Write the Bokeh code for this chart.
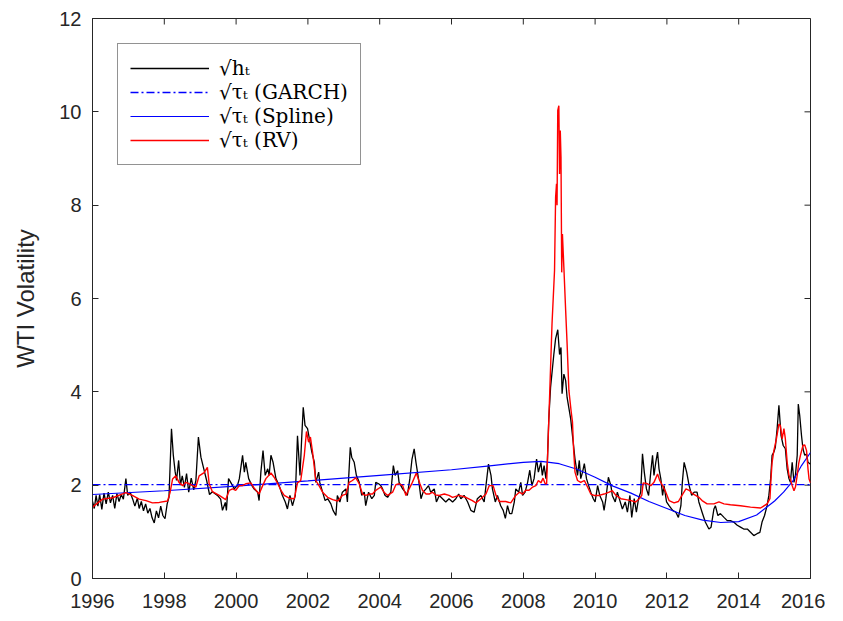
import math
from bokeh.plotting import figure
from bokeh.models import Range1d, FixedTicker, Legend, LegendItem, ColumnDataSource
from bokeh.embed import file_html
from bokeh.resources import INLINE

# sqrt(h_t): (year, value)
h_points = [
    (1996.00, 1.65), (1996.05, 1.50), (1996.10, 1.78), (1996.15, 1.55), (1996.20, 1.80),
    (1996.26, 1.48), (1996.32, 1.83), (1996.38, 1.60), (1996.44, 1.85), (1996.50, 1.62),
    (1996.56, 1.78), (1996.62, 1.50), (1996.68, 1.82), (1996.74, 1.65), (1996.80, 1.80),
    (1996.86, 1.70), (1996.93, 2.14), (1996.98, 1.78), (1997.05, 1.85), (1997.12, 1.70),
    (1997.18, 1.55), (1997.25, 1.72), (1997.30, 1.50), (1997.36, 1.65), (1997.42, 1.45),
    (1997.48, 1.60), (1997.54, 1.40), (1997.60, 1.50), (1997.66, 1.30), (1997.72, 1.19),
    (1997.78, 1.45), (1997.84, 1.30), (1997.90, 1.55), (1997.96, 1.35), (1998.02, 1.28),
    (1998.08, 1.60), (1998.13, 1.74), (1998.20, 3.21), (1998.25, 2.65), (1998.30, 2.30),
    (1998.34, 2.10), (1998.40, 2.53), (1998.45, 2.00), (1998.50, 2.20), (1998.56, 1.95),
    (1998.62, 2.25), (1998.68, 1.85), (1998.75, 2.15), (1998.82, 1.90), (1998.88, 2.10),
    (1998.95, 3.03), (1999.02, 2.60), (1999.10, 2.35), (1999.18, 2.10), (1999.26, 1.80),
    (1999.34, 1.86), (1999.48, 1.78), (1999.57, 1.70), (1999.62, 1.46), (1999.70, 1.63),
    (1999.73, 1.46), (1999.79, 2.14), (1999.85, 2.06), (1999.95, 1.92), (2000.04, 2.00),
    (2000.09, 2.14), (2000.18, 2.64), (2000.23, 2.28), (2000.27, 2.49), (2000.35, 2.14),
    (2000.44, 1.99), (2000.50, 1.92), (2000.60, 1.85), (2000.64, 1.67), (2000.69, 2.28),
    (2000.75, 2.74), (2000.81, 2.21), (2000.88, 2.35), (2000.92, 2.21), (2000.97, 2.64),
    (2001.03, 2.49), (2001.11, 2.14), (2001.20, 1.99), (2001.29, 1.78), (2001.37, 1.64),
    (2001.43, 1.49), (2001.50, 1.78), (2001.57, 1.56), (2001.65, 1.78), (2001.71, 3.06),
    (2001.78, 2.21), (2001.83, 3.06), (2001.87, 3.67), (2001.92, 3.28), (2001.99, 3.21),
    (2002.04, 3.00), (2002.11, 2.71), (2002.18, 2.49), (2002.22, 2.06), (2002.30, 2.28),
    (2002.33, 2.06), (2002.41, 1.85), (2002.48, 1.67), (2002.55, 1.71), (2002.64, 1.60),
    (2002.70, 1.46), (2002.78, 1.35), (2002.82, 1.78), (2002.89, 1.64), (2002.96, 1.85),
    (2003.06, 1.92), (2003.10, 1.64), (2003.18, 2.81), (2003.22, 2.60), (2003.29, 2.49),
    (2003.35, 2.21), (2003.43, 2.06), (2003.50, 1.78), (2003.57, 1.85), (2003.61, 1.56),
    (2003.69, 1.85), (2003.78, 1.71), (2003.85, 1.78), (2003.89, 2.06), (2003.97, 2.03),
    (2004.03, 1.99), (2004.08, 1.92), (2004.15, 1.78), (2004.22, 1.74), (2004.31, 1.85),
    (2004.38, 2.42), (2004.43, 2.21), (2004.50, 2.31), (2004.54, 2.06), (2004.64, 1.92),
    (2004.71, 1.85), (2004.77, 1.78), (2004.84, 2.14), (2004.90, 2.56), (2004.96, 2.78),
    (2005.01, 2.49), (2005.08, 2.14), (2005.15, 1.71), (2005.21, 1.85), (2005.29, 1.92),
    (2005.36, 1.99), (2005.42, 1.85), (2005.52, 1.92), (2005.58, 1.64), (2005.66, 1.78),
    (2005.75, 1.71), (2005.84, 1.64), (2005.93, 1.71), (2006.03, 1.64), (2006.12, 1.71),
    (2006.20, 1.81), (2006.26, 1.71), (2006.35, 1.78), (2006.45, 1.64), (2006.54, 1.46),
    (2006.63, 1.42), (2006.72, 1.71), (2006.82, 1.78), (2006.91, 1.64), (2006.96, 1.99),
    (2007.03, 2.45), (2007.10, 2.21), (2007.14, 1.92), (2007.22, 1.64), (2007.28, 1.78),
    (2007.37, 1.56), (2007.44, 1.46), (2007.50, 1.29), (2007.56, 1.56), (2007.62, 1.39),
    (2007.68, 1.39), (2007.75, 1.64), (2007.79, 1.92), (2007.87, 1.85), (2007.93, 2.06),
    (2007.98, 1.78), (2008.05, 1.85), (2008.12, 2.06), (2008.18, 2.32), (2008.24, 1.99),
    (2008.30, 2.14), (2008.37, 2.56), (2008.42, 2.28), (2008.49, 2.49), (2008.53, 2.21),
    (2008.58, 2.42), (2008.63, 2.14), (2008.67, 2.49), (2008.71, 3.42), (2008.76, 4.10),
    (2008.85, 4.80), (2008.90, 5.14), (2008.96, 5.33), (2009.01, 4.80), (2009.05, 4.95),
    (2009.08, 3.96), (2009.13, 4.38), (2009.18, 4.24), (2009.22, 3.88), (2009.32, 3.42),
    (2009.44, 2.56), (2009.51, 2.21), (2009.56, 2.53), (2009.60, 2.14), (2009.65, 2.28),
    (2009.70, 2.46), (2009.76, 2.14), (2009.82, 1.99), (2009.88, 1.85), (2009.95, 1.71),
    (2010.00, 1.64), (2010.07, 1.99), (2010.13, 1.78), (2010.21, 1.64), (2010.25, 1.46),
    (2010.30, 1.71), (2010.37, 2.17), (2010.44, 1.99), (2010.48, 1.78), (2010.56, 1.64),
    (2010.62, 1.85), (2010.69, 1.67), (2010.76, 1.49), (2010.84, 1.64), (2010.90, 1.42),
    (2010.97, 1.78), (2011.02, 1.31), (2011.09, 1.71), (2011.15, 1.42), (2011.21, 1.71),
    (2011.27, 1.85), (2011.32, 2.67), (2011.37, 2.28), (2011.43, 1.92), (2011.49, 1.78),
    (2011.55, 2.28), (2011.60, 2.64), (2011.64, 2.21), (2011.69, 2.49), (2011.74, 2.71),
    (2011.78, 2.35), (2011.83, 2.14), (2011.88, 1.78), (2011.92, 1.99), (2011.99, 1.64),
    (2012.06, 1.56), (2012.16, 1.46), (2012.25, 1.42), (2012.32, 1.31), (2012.39, 1.56),
    (2012.43, 2.06), (2012.48, 2.49), (2012.55, 2.28), (2012.62, 1.99), (2012.69, 1.78),
    (2012.76, 1.85), (2012.84, 1.85), (2012.89, 1.64), (2012.98, 1.42), (2013.07, 1.21),
    (2013.17, 1.06), (2013.23, 1.10), (2013.31, 1.49), (2013.35, 1.56), (2013.42, 1.35),
    (2013.49, 1.39), (2013.59, 1.31), (2013.68, 1.24), (2013.77, 1.24), (2013.86, 1.21),
    (2013.96, 1.14), (2014.05, 1.10), (2014.14, 1.06), (2014.24, 1.06), (2014.33, 0.99),
    (2014.42, 0.92), (2014.51, 0.96), (2014.59, 0.99), (2014.65, 1.21), (2014.72, 1.35),
    (2014.79, 1.56), (2014.84, 1.78), (2014.89, 2.14), (2014.93, 2.64), (2014.98, 2.71),
    (2015.02, 2.81), (2015.07, 3.21), (2015.12, 3.71), (2015.14, 3.49), (2015.18, 3.06),
    (2015.24, 2.85), (2015.30, 2.78), (2015.35, 2.35), (2015.40, 2.14), (2015.44, 2.06),
    (2015.49, 2.49), (2015.54, 2.06), (2015.58, 2.21), (2015.63, 2.64), (2015.66, 3.74),
    (2015.70, 3.49), (2015.75, 3.06), (2015.79, 2.78), (2015.84, 2.64), (2015.89, 2.67),
    (2015.93, 2.49), (2016.00, 2.45),
]

# sqrt(tau_t) (RV): (year, value)
rv_points = [
    (1996.00, 1.53), (1996.28, 1.70), (1996.56, 1.73), (1996.93, 1.84), (1997.11, 1.78),
    (1997.30, 1.70), (1997.49, 1.67), (1997.67, 1.62), (1997.86, 1.63), (1998.09, 1.66),
    (1998.16, 1.84), (1998.23, 2.13), (1998.32, 2.20), (1998.41, 2.06), (1998.51, 1.99),
    (1998.60, 2.06), (1998.69, 2.03), (1998.79, 1.99), (1998.88, 1.96), (1998.97, 2.20),
    (1999.11, 2.27), (1999.20, 2.38), (1999.25, 2.03), (1999.34, 1.86), (1999.53, 1.78),
    (1999.71, 1.69), (1999.81, 1.89), (1999.90, 1.92), (1999.99, 1.89), (2000.09, 1.99),
    (2000.18, 1.99), (2000.27, 2.03), (2000.41, 2.05), (2000.50, 1.94), (2000.60, 1.85),
    (2000.64, 1.81), (2000.74, 1.99), (2000.83, 2.14), (2000.97, 2.26), (2001.06, 2.17),
    (2001.15, 2.05), (2001.25, 1.89), (2001.34, 1.78), (2001.48, 1.72), (2001.62, 1.71),
    (2001.71, 2.05), (2001.80, 2.10), (2001.90, 2.64), (2001.96, 3.15), (2002.02, 2.92),
    (2002.07, 3.03), (2002.13, 2.71), (2002.22, 2.10), (2002.31, 1.99), (2002.41, 1.85),
    (2002.55, 1.74), (2002.69, 1.69), (2002.83, 1.66), (2002.96, 1.78), (2003.06, 1.81),
    (2003.15, 2.06), (2003.24, 2.10), (2003.33, 2.16), (2003.43, 2.03), (2003.52, 1.81),
    (2003.61, 1.78), (2003.71, 1.81), (2003.80, 1.81), (2003.89, 1.89), (2004.03, 1.96),
    (2004.12, 1.85), (2004.22, 1.78), (2004.36, 1.85), (2004.45, 2.01), (2004.54, 2.03),
    (2004.64, 1.99), (2004.73, 1.78), (2004.82, 1.92), (2004.91, 2.06), (2005.02, 2.26),
    (2005.12, 2.03), (2005.19, 1.89), (2005.29, 1.81), (2005.38, 1.81), (2005.47, 1.85),
    (2005.56, 1.79), (2005.66, 1.78), (2005.80, 1.81), (2005.93, 1.78), (2006.03, 1.74),
    (2006.21, 1.78), (2006.40, 1.74), (2006.58, 1.67), (2006.68, 1.62), (2006.82, 1.71),
    (2006.96, 1.81), (2007.05, 1.99), (2007.16, 1.99), (2007.24, 1.78), (2007.33, 1.65),
    (2007.51, 1.65), (2007.65, 1.62), (2007.79, 1.78), (2007.89, 1.85), (2007.98, 1.81),
    (2008.07, 1.89), (2008.16, 1.89), (2008.26, 1.96), (2008.35, 1.99), (2008.42, 2.10),
    (2008.49, 2.05), (2008.55, 2.15), (2008.61, 2.03), (2008.65, 2.03), (2008.71, 3.38),
    (2008.80, 5.46), (2008.87, 6.60), (2008.90, 8.17), (2008.925, 8.46), (2008.94, 8.00),
    (2008.96, 10.03), (2008.99, 10.13), (2009.01, 8.67), (2009.03, 9.60), (2009.05, 9.03),
    (2009.07, 6.56), (2009.09, 7.38), (2009.13, 6.67), (2009.18, 5.74), (2009.22, 5.03),
    (2009.27, 4.03), (2009.33, 3.60), (2009.37, 3.35), (2009.40, 2.78), (2009.44, 2.28),
    (2009.51, 2.10), (2009.60, 2.06), (2009.70, 2.10), (2009.79, 1.96), (2009.88, 1.81),
    (2009.97, 1.78), (2010.11, 1.78), (2010.25, 1.81), (2010.39, 1.85), (2010.48, 1.88),
    (2010.58, 1.78), (2010.72, 1.71), (2010.86, 1.69), (2011.00, 1.67), (2011.13, 1.64),
    (2011.23, 1.71), (2011.30, 1.78), (2011.34, 2.05), (2011.46, 2.03), (2011.55, 1.99),
    (2011.64, 2.06), (2011.74, 2.24), (2011.80, 2.10), (2011.88, 1.99), (2011.97, 1.85),
    (2012.06, 1.67), (2012.20, 1.62), (2012.32, 1.65), (2012.42, 1.78), (2012.53, 1.92),
    (2012.62, 1.89), (2012.71, 1.82), (2012.80, 1.78), (2012.89, 1.74), (2012.98, 1.67),
    (2013.12, 1.60), (2013.31, 1.60), (2013.45, 1.64), (2013.59, 1.60), (2013.77, 1.58),
    (2014.05, 1.56), (2014.33, 1.53), (2014.61, 1.51), (2014.79, 1.60), (2014.87, 1.71),
    (2014.90, 2.14), (2014.93, 2.49), (2014.98, 2.74), (2015.05, 2.99), (2015.12, 3.31),
    (2015.16, 3.28), (2015.21, 2.99), (2015.26, 3.21), (2015.30, 2.99), (2015.35, 2.49),
    (2015.40, 2.21), (2015.44, 2.13), (2015.49, 1.99), (2015.54, 1.88), (2015.58, 1.96),
    (2015.63, 2.21), (2015.67, 2.46), (2015.72, 2.64), (2015.79, 2.85), (2015.84, 2.86),
    (2015.89, 2.74), (2015.93, 2.35), (2015.96, 2.13), (2016.00, 2.05),
]

# sqrt(tau_t) (Spline)
spline_year = [1996.0, 1998.0, 2000.0, 2002.0, 2004.0, 2006.0, 2007.0, 2008.0, 2008.5,
               2009.0, 2009.5, 2010.0, 2010.5, 2011.0, 2011.5, 2012.0, 2012.5, 2013.0,
               2013.5, 2014.0, 2014.5, 2015.0, 2015.25, 2015.5, 2015.75, 2016.0]
spline_val = [1.80, 1.88, 1.98, 2.09, 2.21, 2.33, 2.41, 2.49, 2.51,
              2.46, 2.34, 2.17, 1.98, 1.83, 1.65, 1.50, 1.35, 1.25,
              1.20, 1.22, 1.36, 1.66, 1.85, 2.08, 2.42, 2.70]

# sqrt(tau_t) (GARCH) - constant
garch_year = [1996.0, 2016.0]
garch_val = [2.01, 2.01]

x_ticks = [1996, 1998, 2000, 2002, 2004, 2006, 2008, 2010, 2012, 2014, 2016]
y_ticks = [0, 2, 4, 6, 8, 10, 12]

labels = ["\u221Ah\u209C", "\u221A\u03C4\u209C (GARCH)", "\u221A\u03C4\u209C (Spline)", "\u221A\u03C4\u209C (RV)"]

X0, X1, Y0, Y1 = x_ticks[0], x_ticks[-1], y_ticks[0], y_ticks[-1]

h_src = ColumnDataSource(dict(x=[a for a, b in h_points], y=[b for a, b in h_points]))
rv_src = ColumnDataSource(dict(x=[a for a, b in rv_points], y=[b for a, b in rv_points]))
sp_src = ColumnDataSource(dict(x=spline_year, y=spline_val))
ga_src = ColumnDataSource(dict(x=garch_year, y=garch_val))

AX = "#262626"
p = figure(frame_width=718, frame_height=560, output_backend="svg", toolbar_location=None,
           x_range=Range1d(X0, X1), y_range=Range1d(Y0, Y1),
           min_border_left=92, min_border_right=15, min_border_top=18, min_border_bottom=35,
           background_fill_color="white", border_fill_color="white")
p.grid.visible = False
p.outline_line_color = AX
p.outline_line_width = 1

for ax in (p.xaxis[0], p.yaxis[0]):
    ax.major_tick_in = 6
    ax.major_tick_out = 0
    ax.minor_tick_in = 0
    ax.minor_tick_out = 0
    ax.axis_line_color = AX
    ax.major_tick_line_color = AX
    ax.major_label_text_font = "Liberation Sans"
    ax.major_label_text_font_size = "20px"
    ax.major_label_text_color = AX
p.xaxis[0].ticker = FixedTicker(ticks=x_ticks)
p.yaxis[0].ticker = FixedTicker(ticks=y_ticks)
p.xaxis[0].major_label_standoff = 15
p.yaxis[0].major_label_standoff = 11
p.yaxis[0].axis_label = "WTI Volatility"
p.yaxis[0].axis_label_text_font = "Liberation Sans"
p.yaxis[0].axis_label_text_font_size = "24px"
p.yaxis[0].axis_label_text_font_style = "normal"
p.yaxis[0].axis_label_text_color = AX
p.yaxis[0].axis_label_standoff = 17

# box ticks on the top and right edges (MATLAB style)
p.ray(x=x_ticks, y=[Y1] * len(x_ticks), length=6, length_units="screen",
      angle=-math.pi / 2, line_color=AX, line_width=1)
p.ray(x=[X1] * len(y_ticks), y=y_ticks, length=6, length_units="screen",
      angle=math.pi, line_color=AX, line_width=1)

r_h = p.line("x", "y", source=h_src, line_color="black", line_width=1.3)
r_ga = p.line("x", "y", source=ga_src, line_color="#0000FF", line_width=1.3, line_dash="8 3 2 3")
r_sp = p.line("x", "y", source=sp_src, line_color="#0000FF", line_width=1.2)
r_rv = p.line("x", "y", source=rv_src, line_color="#FF0000", line_width=1.4)

legend = Legend(items=[LegendItem(label=labels[0], renderers=[r_h]),
                       LegendItem(label=labels[1], renderers=[r_ga]),
                       LegendItem(label=labels[2], renderers=[r_sp]),
                       LegendItem(label=labels[3], renderers=[r_rv])],
                location="top_left", margin=25, padding=12, spacing=0,
                glyph_width=79, glyph_height=22, label_height=22, label_standoff=10,
                label_text_font="DejaVu Serif", label_text_font_size="20px",
                label_text_color="black",
                border_line_color=AX, border_line_width=1, background_fill_color="white",
                background_fill_alpha=1.0)
p.add_layout(legend)

open("out.html", "w").write(file_html(p, INLINE))
